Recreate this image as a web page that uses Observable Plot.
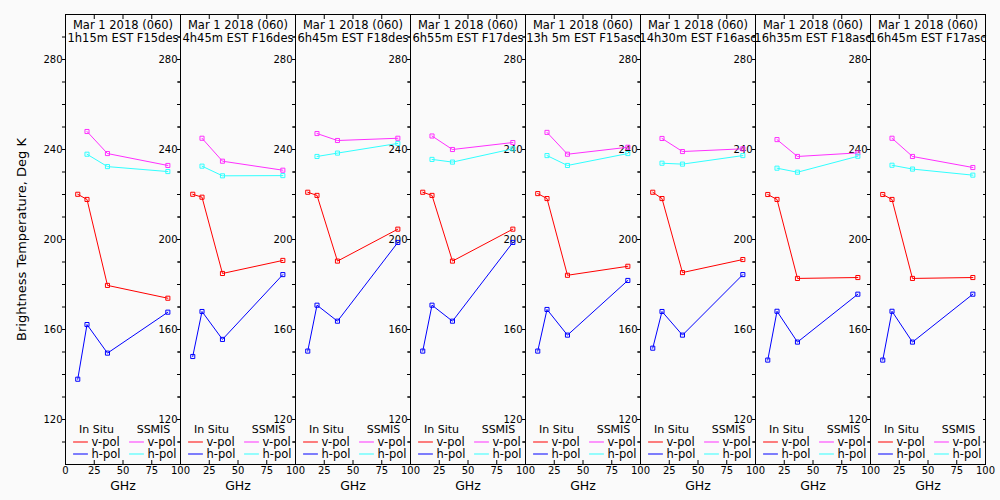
<!DOCTYPE html>
<html><head><meta charset="utf-8">
<script src="https://cdn.jsdelivr.net/npm/d3@7"></script>
<script src="https://cdn.jsdelivr.net/npm/@observablehq/plot@0.6"></script>
<style>
html,body{margin:0;padding:0;background:#fafafa;}
#chart svg{display:block;}
</style></head><body><div id="chart"></div>
<script>
// ---- data ----
const titleDate = "Mar 1 2018 (060)";
const panelTimes = ["1h15m EST F15des","4h45m EST F16des","6h45m EST F18des","6h55m EST F17des",
                    "13h 5m EST F15asc","14h30m EST F16asc","16h35m EST F18asc","16h45m EST F17asc"];
const insituFreq = [10.65, 18.7, 36.5, 89.0];
const ssmisFreq = [18.7, 36.5, 89.0];
const insituV = [
  [220.1, 217.8, 179.6, 173.9],
  [220.1, 218.8, 184.9, 190.7],
  [221.0, 219.6, 190.4, 204.6],
  [221.0, 219.6, 190.4, 204.6],
  [220.4, 218.2, 184.1, 188.1],
  [221.0, 218.2, 185.3, 191.1],
  [220.0, 217.8, 182.7, 183.1],
  [220.0, 217.8, 182.7, 183.1]];
const insituH = [
  [137.9, 162.2, 149.5, 167.7],
  [148.0, 168.0, 155.6, 184.4],
  [150.4, 170.8, 163.7, 198.7],
  [150.4, 170.8, 163.7, 198.7],
  [150.4, 168.9, 157.5, 181.8],
  [151.7, 168.0, 157.5, 184.4],
  [146.4, 168.1, 154.4, 175.7],
  [146.4, 168.1, 154.4, 175.7]];
const ssmisV = [
  [248.0, 238.2, 232.9],
  [245.0, 234.8, 230.8],
  [247.1, 244.0, 245.0],
  [246.0, 240.0, 243.1],
  [247.6, 237.9, 241.0],
  [244.9, 239.1, 240.3],
  [244.4, 236.9, 238.5],
  [245.0, 236.9, 232.0]];
const ssmisH = [
  [237.9, 232.4, 230.2],
  [232.6, 228.3, 228.4],
  [236.9, 238.4, 242.7],
  [235.6, 234.4, 240.3],
  [237.3, 232.9, 238.2],
  [233.9, 233.5, 237.3],
  [231.7, 229.9, 237.0],
  [233.0, 231.3, 228.6]];
const yTickLabels = [120, 160, 200, 240, 280];
const yMinorTicks = [110,120,130,140,150,160,170,180,190,200,210,220,230,240,250,260,270,280,290];
const xTicks = [0, 25, 50, 75, 100];
const xTickLabels = [25, 50, 75, 100];
const legendGroups = ["In Situ", "SSMIS"];
const legendItems = ["v-pol", "h-pol"];
const xTitle = "GHz";
const yTitle = "Brightness Temperature, Deg K";
const seriesNames = ["insitu-v", "insitu-h", "ssmis-v", "ssmis-h"];
const seriesColors = ["#ff0000", "#0000ff", "#ff30ff", "#30ffff"];

// ---- table ----
const rows = [];
panelTimes.forEach((p, i) => {
  insituFreq.forEach((f, j) => rows.push({panel: p, series: "insitu-v", ghz: f, tb: insituV[i][j]}));
  insituFreq.forEach((f, j) => rows.push({panel: p, series: "insitu-h", ghz: f, tb: insituH[i][j]}));
  ssmisFreq.forEach((f, j) => rows.push({panel: p, series: "ssmis-v", ghz: f, tb: ssmisV[i][j]}));
  ssmisFreq.forEach((f, j) => rows.push({panel: p, series: "ssmis-h", ghz: f, tb: ssmisH[i][j]}));
});

const font = "DejaVu Sans";
const legendLine = {draw(ctx, l) { ctx.moveTo(0, 0); ctx.lineTo(0, -l); }};
const blank = () => "";
const P = d => d;

const legendMarks = [];
legendMarks.push(Plot.text(panelTimes, {fx: P, text: () => legendGroups[0], frameAnchor: "bottom-left", dx: 31, dy: -35, lineAnchor: "middle", textAnchor: "middle", fontSize: 11}));
legendMarks.push(Plot.text(panelTimes, {fx: P, text: () => legendGroups[1], frameAnchor: "bottom-left", dx: 88, dy: -35, lineAnchor: "middle", textAnchor: "middle", fontSize: 11}));
[[0, 0, 8, -22.5], [0, 1, 8, -10.5], [1, 0, 64, -22.5], [1, 1, 64, -10.5]].forEach(([g, k, dx, dy]) => {
  const col = seriesColors[g * 2 + k];
  legendMarks.push(Plot.vector(panelTimes, {fx: P, frameAnchor: "bottom-left", dx, dy, length: 14, rotate: 90, anchor: "start", shape: legendLine, stroke: col, strokeWidth: 1}));
  legendMarks.push(Plot.text(panelTimes, {fx: P, text: () => legendItems[k], frameAnchor: "bottom-left", dx: dx + 18, dy, lineAnchor: "middle", textAnchor: "start", fontSize: 11.5}));
});

const chart = Plot.plot({
  width: 1000, height: 500,
  marginLeft: 65, marginRight: 15, marginTop: 14, marginBottom: 36,
  style: {background: "#fafafa", fontFamily: font, color: "#000"},
  fx: {domain: panelTimes, padding: 0, axis: null, label: null},
  x: {domain: [0, 100]},
  y: {domain: [100, 300]},
  color: {domain: seriesNames, range: seriesColors},
  marks: [
    Plot.axisY(yMinorTicks, {anchor: "left", facetAnchor: null, tickSize: 3, tickFormat: blank, label: null}),
    Plot.axisY(yMinorTicks, {anchor: "right", facetAnchor: null, tickSize: -3, tickFormat: blank, label: null}),
    Plot.axisY(yTickLabels, {anchor: "left", facetAnchor: null, tickSize: 0, tickPadding: 3, fontSize: 10, label: null}),
    Plot.axisX(xTicks, {anchor: "bottom", facetAnchor: null, tickSize: -4, tickFormat: blank, label: null}),
    Plot.axisX(xTicks, {anchor: "top", facetAnchor: null, tickSize: -4, tickFormat: blank, label: null}),
    Plot.axisX(xTickLabels, {anchor: "bottom", facetAnchor: null, tickSize: 0, tickPadding: 2, fontSize: 10, label: null}),
    Plot.axisX([xTicks[0]], {anchor: "bottom", facetAnchor: "left", tickSize: 0, tickPadding: 2, fontSize: 10, label: null}),
    Plot.frame({stroke: "#000", strokeWidth: 1}),
    Plot.line(rows, {fx: "panel", x: "ghz", y: "tb", z: "series", stroke: "series", strokeWidth: 1}),
    Plot.dot(rows, {fx: "panel", x: "ghz", y: "tb", stroke: "series", symbol: "square", r: 2.3, strokeWidth: 1, fill: "none"}),
    Plot.text(panelTimes, {fx: P, text: () => titleDate, frameAnchor: "top", dy: 10.5, lineAnchor: "middle", fontSize: 11.5}),
    Plot.text(panelTimes, {fx: P, text: P, frameAnchor: "top", dy: 24, lineAnchor: "middle", fontSize: 11.5}),
    Plot.text(panelTimes, {fx: P, text: () => xTitle, frameAnchor: "bottom", dy: 21, lineAnchor: "middle", fontSize: 12.5}),
    Plot.text([panelTimes[0]], {fx: P, text: () => yTitle, frameAnchor: "left", dx: -44, rotate: -90, textAnchor: "middle", lineAnchor: "middle", fontSize: 13}),
    ...legendMarks
  ]
});
document.getElementById("chart").appendChild(chart);
</script>
</body></html>
